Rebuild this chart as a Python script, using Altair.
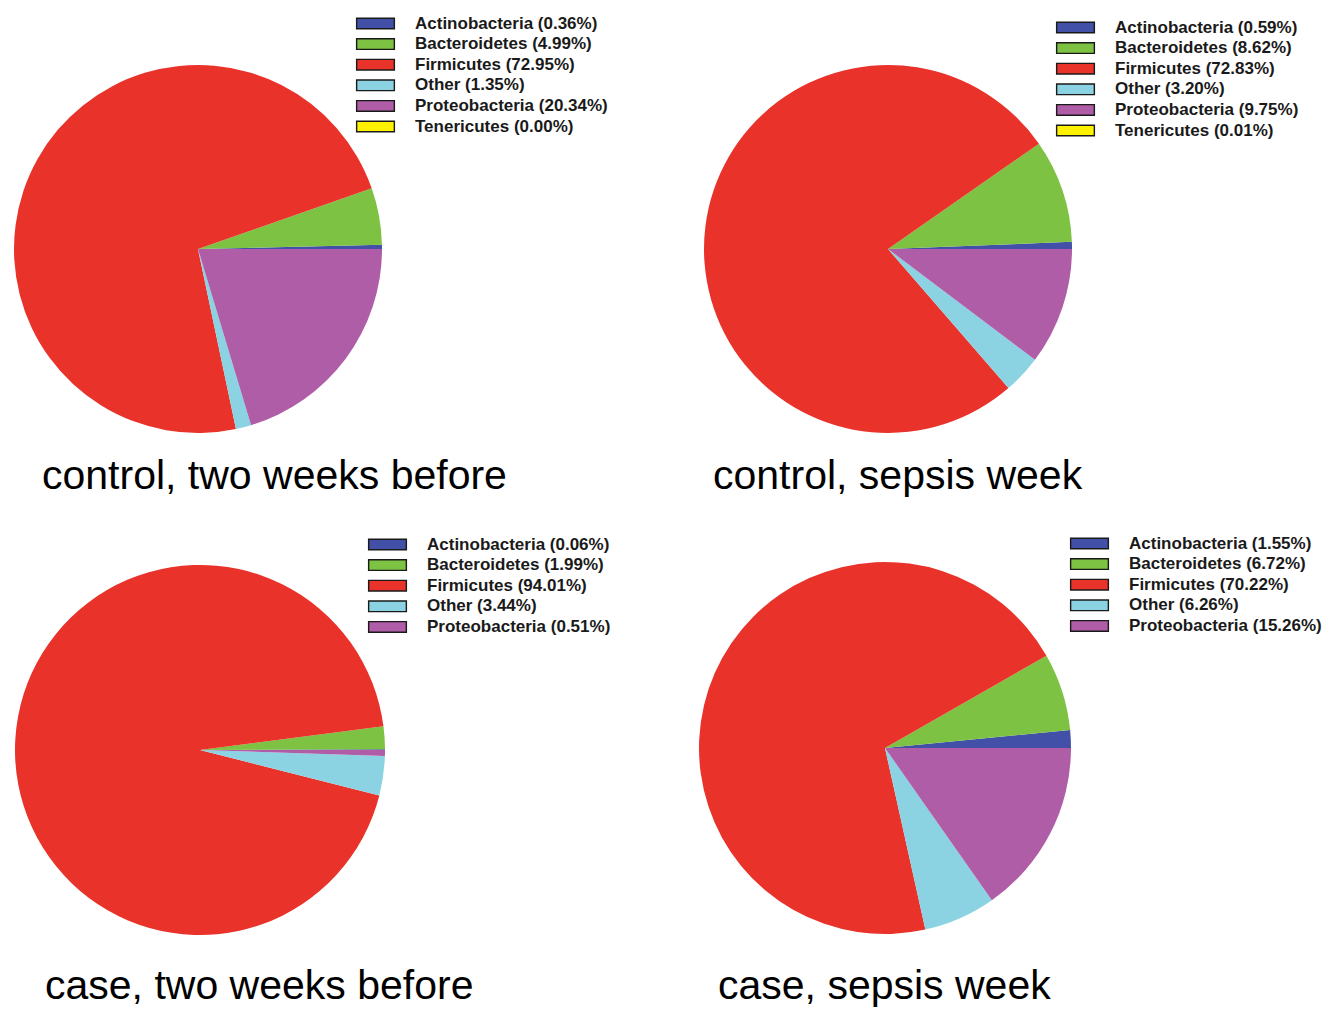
import math
import altair as alt
import pandas as pd

# ---- data ----
phyla = ["Actinobacteria", "Bacteroidetes", "Firmicutes", "Other", "Proteobacteria", "Tenericutes"]
phylum_colors = ["#4350A8", "#7DC242", "#E8322A", "#8BD3E2", "#B05DA7", "#FFF200"]

control_two_weeks_before = [0.36, 4.99, 72.95, 1.35, 20.34, 0.00]
control_sepsis_week = [0.59, 8.62, 72.83, 3.20, 9.75, 0.01]
case_two_weeks_before = [0.06, 1.99, 94.01, 3.44, 0.51]
case_sepsis_week = [1.55, 6.72, 70.22, 6.26, 15.26]

panel_titles = [
    "control, two weeks before",
    "control, sepsis week",
    "case, two weeks before",
    "case, sepsis week",
]
panel_values = [control_two_weeks_before, control_sepsis_week,
                case_two_weeks_before, case_sepsis_week]

# ---- layout (pixels, chart coordinates) ----
# pie centre x, y, radius, legend x, legend y, title x, title baseline y
layout = [
    dict(cx=190, cy=241, r=184, lx=359, ly=7, tx=34, ty=481),
    dict(cx=880, cy=241, r=184, lx=1059, ly=11, tx=705, ty=481),
    dict(cx=192, cy=742, r=185, lx=371, ly=528, tx=37, ty=991),
    dict(cx=877, cy=740, r=186, lx=1073, ly=527, tx=710, ty=991),
]

FULL = 2 * math.pi
START = 0.5 * math.pi  # 3 o'clock, slices run counter-clockwise
swatch_path = "M-3.2,-0.9H3.2V0.9H-3.2Z"

layers = []
for title, vals, lay in zip(panel_titles, panel_values, layout):
    n = len(vals)
    names = phyla[:n]
    labels = [f"{p} ({v:.2f}%)" for p, v in zip(names, vals)]
    df = pd.DataFrame({"phylum": names, "pct": vals, "idx": list(range(n)), "label": labels})
    arc = alt.Chart(df).mark_arc(radius=lay["r"], strokeWidth=0).encode(
        theta=alt.Theta("pct:Q", stack=True,
                        scale=alt.Scale(range=[START + FULL, START])),
        color=alt.Color(
            "label:N",
            scale=alt.Scale(domain=labels, range=phylum_colors[:n]),
            legend=alt.Legend(
                title=None, orient="none",
                legendX=lay["lx"], legendY=lay["ly"],
            ),
        ),
        order=alt.Order("idx:Q"),
        x=alt.value(lay["cx"]),
        y=alt.value(lay["cy"]),
    )
    txt = alt.Chart(pd.DataFrame({"t": [title]})).mark_text(
        align="left", baseline="alphabetic", fontSize=41,
        font="Liberation Sans", color="#000000",
    ).encode(
        x=alt.value(lay["tx"]), y=alt.value(lay["ty"]), text="t:N"
    )
    layers += [arc, txt]

chart = alt.layer(*layers).resolve_scale(
    color="independent", theta="independent"
).properties(
    width=1318, height=1001, autosize="none", padding=0
).configure_view(
    stroke=None
).configure_legend(
    symbolType=swatch_path,
    symbolSize=139,
    symbolStrokeColor="#1a1a1a",
    symbolStrokeWidth=1.4,
    symbolOpacity=1,
    labelFont="Liberation Sans",
    labelFontWeight="bold",
    labelFontSize=17,
    labelColor="#1a1a1a",
    labelOffset=31,
    labelLimit=0,
    rowPadding=2.6,
    padding=0,
)

chart.save("out.html", embed_options={"renderer": "svg", "actions": False})
